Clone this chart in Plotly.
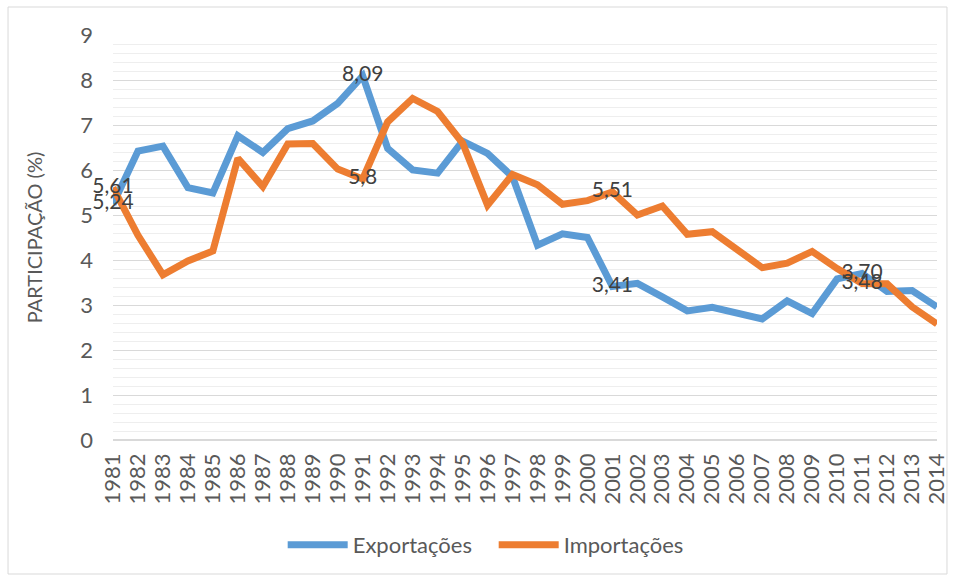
import plotly.graph_objects as go

years = list(range(1981, 2015))
exportacoes = [5.24, 6.42, 6.53, 5.61, 5.49, 6.76, 6.39, 6.92, 7.09, 7.48,
               8.09, 6.48, 6.00, 5.93, 6.64, 6.37, 5.85, 4.33, 4.58, 4.50,
               3.41, 3.48, 3.18, 2.87, 2.95, 2.83, 2.69, 3.09, 2.81, 3.58,
               3.70, 3.30, 3.32, 2.96]
importacoes = [5.61, 4.55, 3.67, 3.98, 4.20, 6.26, 5.63, 6.58, 6.59, 6.02,
               5.80, 7.07, 7.59, 7.30, 6.60, 5.22, 5.90, 5.67, 5.24, 5.32,
               5.51, 5.00, 5.20, 4.57, 4.63, 4.22, 3.83, 3.93, 4.19, 3.81,
               3.48, 3.47, 2.96, 2.58]
label_years = [1981, 1991, 2001, 2011]
exp_labels = ["5,24", "8,09", "3,41", "3,70"]
imp_labels = ["5,61", "5,8", "5,51", "3,48"]

FONT = "Lato, 'Open Sans', sans-serif"
BLUE = "#5B9BD5"
ORANGE = "#ED7D31"


def text_for(labels):
    m = dict(zip(label_years, labels))
    return [m.get(y, "") for y in years]


fig = go.Figure()
fig.add_trace(go.Scatter(
    x=years, y=exportacoes, name="Exportações", mode="lines",
    line=dict(color=BLUE, width=7), cliponaxis=False,
))
fig.add_trace(go.Scatter(
    x=years, y=importacoes, name="Importações", mode="lines",
    line=dict(color=ORANGE, width=7), cliponaxis=False,
))
# data labels
fig.add_trace(go.Scatter(
    x=years, y=exportacoes, mode="text", text=text_for(exp_labels),
    textposition="middle center", showlegend=False, hoverinfo="skip",
    textfont=dict(family=FONT, size=21, color="#404040"), cliponaxis=False,
))
fig.add_trace(go.Scatter(
    x=years, y=importacoes, mode="text", text=text_for(imp_labels),
    textposition="middle center", showlegend=False, hoverinfo="skip",
    textfont=dict(family=FONT, size=21, color="#404040"), cliponaxis=False,
))

fig.update_layout(
    width=954, height=579,
    margin=dict(l=113, r=17, t=35, b=139, autoexpand=False),
    paper_bgcolor="white", plot_bgcolor="white",
    font=dict(family=FONT, size=22, color="#595959"),
    showlegend=True,
    legend=dict(orientation="h", x=0.462, y=-0.259, xanchor="center",
                yanchor="middle", font=dict(size=22, color="#595959"),
                itemwidth=60, traceorder="normal", entrywidth=136),
    xaxis=dict(
        range=[1981, 2014], tickmode="array", tickvals=years,
        ticktext=[str(y) for y in years], tickangle=-90,
        showgrid=False, zeroline=False, showline=False, ticks="",
        ticklabelstandoff=8, automargin=False,
        tickfont=dict(size=22, color="#595959"),
    ),
    yaxis=dict(
        range=[0, 9], dtick=1, tick0=0,
        showgrid=True, gridcolor="#D9D9D9", gridwidth=1.3,
        zeroline=True, zerolinecolor="#D9D9D9", zerolinewidth=1.5,
        showline=False, ticks="", ticklabelstandoff=19, automargin=False,
        tickfont=dict(size=22, color="#595959"),
        title=dict(text="PARTICIPAÇÃO (%)", font=dict(size=20, color="#595959"),
                   standoff=32),
        minor=dict(dtick=0.2, showgrid=True, gridcolor="#EEEEEE", gridwidth=1),
    ),
    shapes=[dict(type="rect", xref="paper", yref="paper",
                 x0=-0.1274, x1=1.0121, y0=-0.3309, y1=1.0691,
                 line=dict(color="#D9D9D9", width=1), fillcolor="rgba(0,0,0,0)",
                 layer="below")],
)

fig.write_html("out.html", config={"displayModeBar": False},
               post_script="document.body.style.margin='0';"
                           "document.body.style.overflow='hidden';")
